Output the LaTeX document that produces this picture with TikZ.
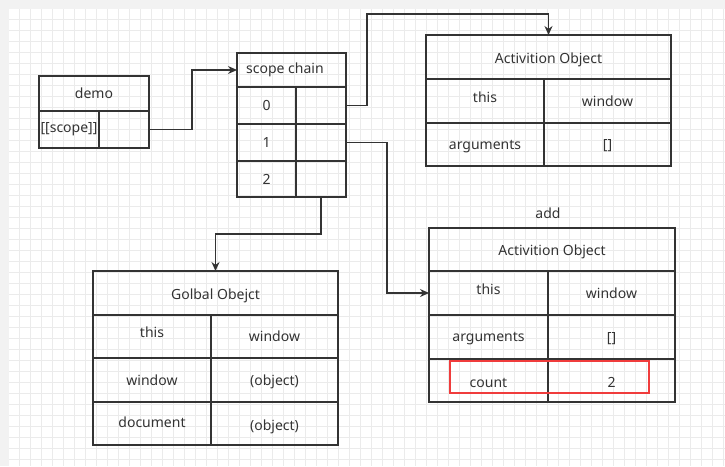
\documentclass[tikz,border=0pt]{standalone}
\usepackage{fontspec}
\setmainfont{Noto Sans}
\usetikzlibrary{arrows.meta}
\definecolor{ink}{HTML}{333333}
\definecolor{gridc}{HTML}{EBEBEB}
\definecolor{outer}{HTML}{F2F2F2}
\definecolor{redc}{HTML}{F03C3C}
\tikzset{
  cell/.style={draw=ink, line width=1.2pt, inner sep=0pt, outer sep=0pt, anchor=north west,
    text=ink, font=\fontsize{14}{16}\selectfont},
  txt/.style={inner sep=0pt, text=ink, font=\fontsize{14}{16}\selectfont},
  arr/.style={draw=ink, line width=1.2pt, -{Stealth[length=9pt,width=8pt]}},
}
\begin{document}
\begin{tikzpicture}[x=1pt,y=-1pt]
\useasboundingbox (0,0) rectangle (725,466);
\fill[outer] (0,0) rectangle (725,466);
\fill[white] (9,9) rectangle (725,466);
\foreach \x in {19,30,...,725} \draw[gridc, line width=0.8pt] (\x,9) -- (\x,466);
\foreach \y in {19,30,...,466} \draw[gridc, line width=0.8pt] (9,\y) -- (725,\y);

% demo
\node[cell, minimum width=110pt, minimum height=35pt] (demohead) at (39,76) {demo};
\node[cell, minimum width=60pt, minimum height=37pt] (demoscope) at (39,111) {[[scope]]};
\node[cell, minimum width=50pt, minimum height=37pt] (demoval) at (99,111) {};

% scope chain
\node[cell, minimum width=109pt, minimum height=34pt] (scopehead) at (237,53) {};
\node[txt, anchor=west] (scopetxt) at ([xshift=9pt]scopehead.west) {scope chain};
\node[cell, minimum width=59pt, minimum height=37pt] (s0k) at (237,87) {0};
\node[cell, minimum width=50pt, minimum height=37pt] (s0v) at (296,87) {};
\node[cell, minimum width=59pt, minimum height=37pt] (s1k) at (237,124) {1};
\node[cell, minimum width=50pt, minimum height=37pt] (s1v) at (296,124) {};
\node[cell, minimum width=59pt, minimum height=36pt] (s2k) at (237,161) {2};
\node[cell, minimum width=50pt, minimum height=36pt] (s2v) at (296,161) {};

% top activation object
\node[cell, minimum width=245pt, minimum height=44pt] (ao1head) at (426,35) {};
\node[txt] (ao1headt) at ([yshift=-2.5pt]ao1head.center) {Activition Object};
\node[cell, minimum width=118pt, minimum height=44pt] (ao1thisk) at (426,79) {};
\node[txt] (ao1thist) at ([yshift=4pt]ao1thisk.center) {this};
\node[cell, minimum width=127pt, minimum height=44pt] (ao1thisv) at (544,79) {window};
\node[cell, minimum width=118pt, minimum height=43pt] (ao1argk) at (426,123) {};
\node[txt] (ao1argt) at ([yshift=-2.5pt]ao1argk.center) {arguments};
\node[cell, minimum width=127pt, minimum height=43pt] (ao1argv) at (544,123) {};
\node[txt] (ao1argvt) at ([yshift=-1.5pt]ao1argv.center) {[]};

% add activation object
\node[txt] (addlbl) at (548,213) {add};
\node[cell, minimum width=246pt, minimum height=43pt] (ao2head) at (429,228) {};
\node[txt] (ao2headt) at ([yshift=-2.5pt]ao2head.center) {Activition Object};
\node[cell, minimum width=119pt, minimum height=44pt] (ao2thisk) at (429,271) {};
\node[txt] (ao2thist) at ([yshift=4pt]ao2thisk.center) {this};
\node[cell, minimum width=127pt, minimum height=44pt] (ao2thisv) at (548,271) {window};
\node[cell, minimum width=119pt, minimum height=44pt] (ao2argk) at (429,315) {};
\node[txt] (ao2argt) at ([yshift=-2pt]ao2argk.center) {arguments};
\node[cell, minimum width=127pt, minimum height=44pt] (ao2argv) at (548,315) {};
\node[txt] (ao2argvt) at ([yshift=-1.5pt]ao2argv.center) {[]};
\node[cell, minimum width=119pt, minimum height=43pt] (ao2cntk) at (429,359) {};
\node[txt] (ao2cntt) at ([yshift=-2pt]ao2cntk.center) {count};
\node[cell, minimum width=127pt, minimum height=43pt] (ao2cntv) at (548,359) {};
\node[txt] (ao2cntvt) at ([yshift=-2pt]ao2cntv.center) {2};
\draw[redc, line width=1.6pt] (450,361) rectangle (649,393);

% global object
\node[cell, minimum width=245pt, minimum height=44pt] (glhead) at (93,271) {};
\node[txt] (glheadt) at ([yshift=-2.5pt]glhead.center) {Golbal Obejct};
\node[cell, minimum width=118pt, minimum height=43pt] (glthisk) at (93,315) {};
\node[txt] (glthist) at ([yshift=4pt]glthisk.center) {this};
\node[cell, minimum width=127pt, minimum height=43pt] (glthisv) at (211,315) {window};
\node[cell, minimum width=118pt, minimum height=44pt] (glwink) at (93,358) {window};
\node[cell, minimum width=127pt, minimum height=44pt] (glwinv) at (211,358) {};
\node[txt] (glwinvt) at ([yshift=-1.5pt]glwinv.center) {(object)};
\node[cell, minimum width=118pt, minimum height=43pt] (gldock) at (93,402) {};
\node[txt] (gldoct) at ([yshift=1pt]gldock.center) {document};
\node[cell, minimum width=127pt, minimum height=43pt] (gldocv) at (211,402) {};
\node[txt] (gldocvt) at ([yshift=-3pt]gldocv.center) {(object)};

% connectors
\coordinate (t1) at (548.5,14);
\draw[arr] (demoval.east) -- ++(43,0) |- (scopehead.west);
\draw[arr] (s0v.east) -- ++(21,0) |- (t1) -- (ao1head.north);
\draw[arr] (s1v.east) -- ++(41,0) |- (ao2thisk.west);
\draw[arr] (s2v.south) -- ++(0,37) -| (glhead.north);
\end{tikzpicture}
\end{document}
